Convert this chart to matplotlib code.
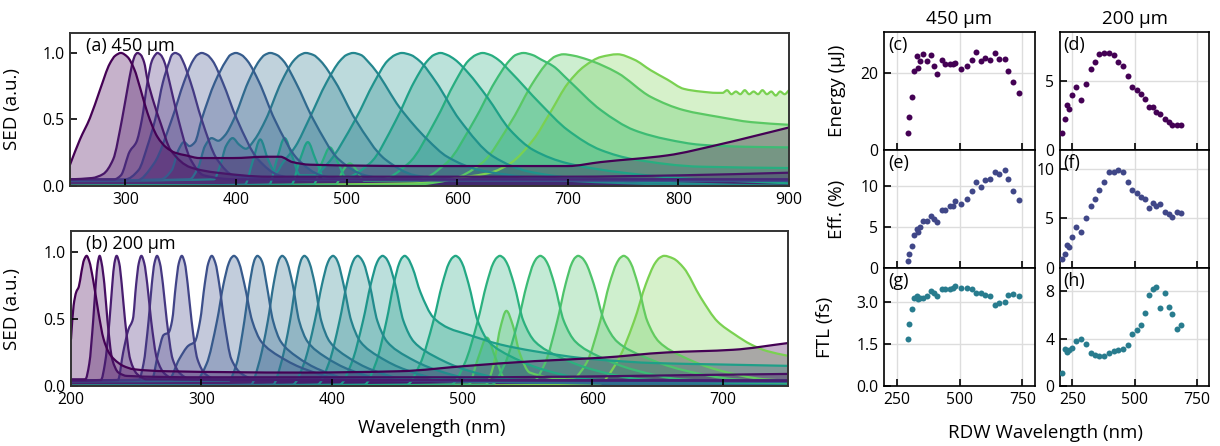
import matplotlib
matplotlib.use('Agg')
import matplotlib.pyplot as plt
from matplotlib.path import Path
from matplotlib.patches import PathPatch
import numpy as np

plt.rcParams['font.family'] = ['Open Sans', 'DejaVu Sans']

# ---------------- Spectra, panel (a): 450 um  -- (wavelength nm, SED) knots
a01 = [(250,.16),(259,.35),(268,.51),(277,.72),(286,.92),(291,.98),(296,1.0),(302,.97),(308,.88),(314,.72),(320,.55),(329,.37),(337,.29),(345,.25),(355,.23),(367,.21),(397,.21),(428,.22),(440,.22),(451,.18),(467,.16),(567,.15),(700,.15),(730,.18),(790,.23),(836,.31),(866,.37),(900,.44)]
a02 = [(250,.05),(270,.06),(280,.09),(289,.2),(297,.5),(303,.78),(307,.94),(309,.985),(311,1.0),(314,.985),(317,.93),(320,.8),(326,.62),(332,.47),(341,.27),(359,.14),(383,.10),(429,.07),(700,.07),(800,.08),(900,.10)]
a03 = [(250,.05),(290,.05),(296,.08),(304,.26),(310,.33),(315,.5),(320,.78),(324,.94),(327,.985),(329,1.0),(332,.985),(335,.94),(340,.78),(348,.5),(359,.2),(371,.08),(400,.05),(900,.05)]
a04 = [(250,.05),(300,.05),(312,.12),(320,.3),(327,.5),(334,.78),(340,.94),(342,.985),(345,1.0),(349,.985),(352,.94),(359,.78),(369,.5),(383,.2),(398,.08),(440,.05),(900,.05)]
a05 = [(250,.04),(310,.04),(326,.17),(342,.5),(353,.78),(361,.94),(365,.985),(369,1.0),(374,.985),(379,.94),(388,.78),(401,.5),(420,.2),(439,.08),(465,.045),(900,.04)]
a06 = [(250,.04),(332,.05),(342,.12),(348,.27),(353,.33),(358,.3),(363,.33),(369,.5),(381,.78),(391,.94),(395,.985),(400,1.0),(405,.985),(410.5,.94),(421,.78),(435,.5),(456,.2),(477,.08),(505,.045),(900,.04)]
a07 = [(250,.04),(358,.05),(366,.14),(372,.3),(378,.36),(384,.34),(390,.38),(398,.5),(411,.78),(421,.94),(426,.985),(431,1.0),(437,.985),(443,.94),(454,.78),(470,.5),(493,.2),(517,.08),(548,.045),(900,.04)]
a08 = [(250,.04),(380,.05),(386,.16),(391,.3),(397,.36),(403,.31),(409,.28),(417,.35),(427,.5),(441,.78),(452,.94),(458,.985),(463,1.0),(470,.985),(476.5,.94),(490,.78),(508,.5),(535,.2),(562,.08),(598,.045),(900,.04)]
a09 = [(250,0),(408,.01),(415,.18),(422,.35),(429,.2),(436,.1),(442,.17),(454,.3),(466,.5),(482,.78),(494,.94),(500,.985),(506,1.0),(513,.985),(520,.93),(527,.86),(548,.59),(573,.35),(591,.22),(620,.12),(660,.07),(700,.04),(800,.01),(900,0)]
a10 = [(250,0),(430,.01),(437,.2),(444,.36),(451,.22),(458,.08),(470,.08),(483,.17),(508,.5),(525,.78),(537,.94),(544,.985),(550,1.0),(558,.985),(566,.94),(581,.78),(602,.5),(633,.22),(664,.11),(706,.06),(800,.02),(900,0)]
a11 = [(250,0),(450,.01),(458,.2),(465,.33),(472,.2),(480,.06),(497,.06),(521,.17),(545,.5),(561,.78),(573,.94),(579,.985),(585,1.0),(591,.985),(598,.95),(610,.85),(627,.67),(648,.42),(669,.27),(700,.17),(750,.1),(800,.06),(900,.02)]
a12 = [(250,0),(470,.01),(478,.18),(485,.29),(492,.18),(500,.06),(531,.05),(556,.17),(581,.5),(598,.78),(610,.94),(617,.985),(623,1.0),(630,.985),(637,.95),(648,.86),(675,.62),(700,.42),(730,.27),(760,.2),(820,.145),(900,.135)]
a13 = [(250,0),(490,.01),(497,.12),(503,.17),(509,.12),(516,.04),(563,.04),(590,.17),(616,.5),(634,.78),(647,.94),(653,.985),(660,1.0),(668,.985),(676,.95),(687,.9),(700,.8),(730,.57),(760,.42),(790,.35),(820,.31),(860,.295),(900,.29)]
a14 = [(250,0),(560,.01),(595,.05),(622,.17),(650,.5),(668,.77),(682,.93),(689,.975),(696,.99),(705,.98),(718,.95),(745,.85),(775,.67),(805,.57),(836,.52),(866,.48),(900,.46)]
a15 = [(250,0),(560,.02),(600,.06),(630,.1),(648,.17),(669,.35),(684,.55),(700,.77),(715,.9),(730,.97),(745,.99),(760,.95),(775,.87),(790,.8),(805,.73),(820,.71),(835,.70),(840,.70),(844,.72),(848,.69),(852,.71),(856,.69),(860,.72),(864,.69),(868,.71),(872,.69),(876,.72),(880,.69),(884,.71),(888,.68),(892,.71),(896,.69),(900,.72)]
spectra_a = [a01, a02, a03, a04, a05, a06, a07, a08, a09, a10, a11, a12, a13, a14, a15]

# ---------------- Spectra, panel (b): 200 um
b01 = [(200,.35),(202,.6),(204,.7),(206,.74),(208,.85),(210,.94),(212,.97),(214,.93),(217,.79),(221,.55),(225,.35),(229,.25),(233,.2),(240,.15),(248,.125),(273,.11),(375,.10),(452,.11),(504,.15),(555,.185),(606,.21),(657,.25),(708,.27),(750,.32)]
b02 = [(200,.05),(211,.05),(214,.165),(217,.485),(219,.76),(220.5,.915),(222,.97),(223.5,.915),(225.6,.76),(228,.485),(231.6,.2),(236.4,.1),(243,.075),(300,.065),(500,.065),(750,.09)]
b03 = [(200,.04),(223,.045),(226,.165),(229.5,.485),(231.7,.76),(233.3,.915),(235,.97),(237,.915),(238.9,.76),(241.5,.485),(245.4,.2),(250.6,.09),(258,.05),(750,.04)]
b04 = [(200,.04),(236,.045),(240,.25),(244,.42),(247.5,.5),(250,.76),(252,.915),(254,.97),(256.2,.915),(258.5,.76),(261.5,.485),(266,.2),(272,.09),(280,.05),(750,.04)]
b05 = [(200,.04),(252,.045),(255.6,.165),(259.5,.485),(262,.76),(264,.915),(266,.97),(268.2,.915),(270.5,.76),(273.5,.485),(278,.2),(284,.09),(292,.05),(750,.04)]
b06 = [(200,.04),(262,.05),(267,.25),(271,.38),(275,.4),(277.5,.485),(280.5,.76),(282.7,.915),(285,.97),(287.3,.915),(289.5,.76),(292.5,.485),(297,.2),(303,.09),(311,.05),(750,.04)]
b07 = [(200,.04),(275,.05),(283,.2),(290,.3),(295,.33),(299,.485),(302.6,.76),(305.3,.915),(308,.97),(310.8,.915),(313.7,.76),(317.5,.485),(323,.2),(331,.09),(341,.05),(750,.04)]
b08 = [(200,.04),(296,.045),(304,.165),(312,.485),(317,.76),(321,.915),(323,.955),(325,.97),(327,.955),(329,.915),(333,.76),(339,.485),(346,.33),(360,.22),(381,.12),(409,.05),(750,.035)]
b09 = [(200,.035),(321,.04),(327,.165),(333,.485),(337,.76),(340,.915),(341.5,.955),(343,.97),(345,.955),(347,.915),(350,.76),(355,.485),(361,.33),(373,.22),(391,.12),(415,.05),(750,.03)]
b10 = [(200,0),(338,.01),(344,.165),(351,.485),(355.4,.76),(358.7,.915),(360.3,.955),(362,.97),(364,.955),(366,.915),(370,.76),(375,.485),(381.5,.33),(394.5,.22),(414,.12),(440,.05),(600,.02),(750,0)]
b11 = [(200,0),(355,.01),(361,.165),(368,.485),(372.4,.76),(375.7,.915),(377.3,.955),(379,.97),(381,.955),(383,.915),(387,.76),(392,.485),(398.5,.33),(411.5,.22),(431,.12),(457,.05),(600,.02),(750,0)]
b12 = [(200,0),(370,.01),(378.6,.165),(387,.485),(392.6,.76),(396.8,.915),(398.9,.955),(401,.97),(403,.955),(405,.915),(409,.76),(415,.485),(422,.33),(436,.22),(457,.12),(485,.05),(620,.02),(750,0)]
b13 = [(200,0),(389,.01),(397.6,.165),(406,.485),(411.6,.76),(415.8,.915),(417.9,.955),(420,.97),(422,.955),(424.5,.915),(429,.76),(435,.485),(442.5,.33),(457.5,.22),(480,.12),(510,.05),(640,.02),(750,0)]
b14 = [(200,0),(406,.01),(415,.165),(424,.485),(430,.76),(434.5,.915),(436.8,.955),(439,.97),(441.4,.955),(443.8,.915),(448.6,.76),(455,.485),(463,.33),(479,.22),(503,.12),(535,.05),(660,.02),(750,0)]
b15 = [(200,0),(425,.01),(433.6,.165),(442,.485),(447.6,.76),(451.8,.915),(453.9,.955),(456,.97),(458.5,.95),(462,.88),(468,.7),(478,.51),(490,.43),(504,.385),(529,.31),(555,.26),(600,.2),(650,.17),(700,.16),(750,.15)]
b16 = [(200,0),(457.6,.01),(467.8,.165),(478,.485),(484.8,.76),(489.9,.915),(492.5,.955),(495,.97),(497.5,.955),(500,.915),(505,.76),(512,.485),(520.5,.33),(537.5,.22),(563,.12),(597,.05),(700,.02),(750,0)]
b17 = [(200,0),(491.6,.01),(501.8,.165),(512,.485),(518.8,.76),(523.9,.915),(526.5,.955),(529,.97),(531.7,.955),(534.4,.915),(539.8,.76),(547,.485),(556,.33),(574,.22),(601,.12),(637,.05),(750,.01)]
b18 = [(200,0),(522.6,.01),(532.8,.165),(543,.485),(549.8,.76),(554.9,.915),(557.5,.955),(560,.97),(562.7,.955),(565.4,.915),(570.8,.76),(578,.485),(587,.33),(605,.22),(632,.12),(668,.05),(750,.02)]
b19 = [(200,0),(505,.01),(512,.2),(519,.36),(526,.2),(533,.05),(554,.03),(563.4,.165),(573,.485),(579.4,.76),(584.2,.915),(586.6,.955),(589,.97),(592,.955),(595,.915),(601,.76),(609,.485),(619,.33),(639,.22),(669,.12),(709,.05),(750,.03)]
b20 = [(200,0),(518,.01),(524,.15),(529,.42),(534,.56),(539,.45),(544,.25),(552,.1),(584,.05),(595,.165),(606,.485),(613,.76),(618.6,.915),(621.3,.955),(624,.97),(626.7,.955),(629.4,.915),(634.8,.76),(642,.485),(651,.33),(669,.22),(696,.12),(732,.05),(750,.04)]
b21 = [(200,0),(604,.01),(618,.165),(632,.485),(641,.76),(648,.915),(651.5,.955),(655,.97),(662,.95),(670,.88),(683,.66),(696,.48),(709,.385),(721.5,.31),(734,.26),(750,.225)]
spectra_b = [b01, b02, b03, b04, b05, b06, b07, b08, b09, b10, b11, b12, b13, b14, b15, b16, b17, b18, b19, b20, b21]

# ---------------- Scatter data (RDW wavelength nm)
wl_450 = [294, 300, 310, 319, 330, 334, 343, 356, 369, 385, 399, 410, 432, 442, 462, 475, 483, 505, 529, 548, 564, 584, 601, 621, 641, 658, 681, 694, 714, 737]
energy_450 = [4.35, 8.6, 13.7, 20.5, 24.5, 21.3, 23.0, 24.9, 23.2, 24.6, 21.7, 19.6, 23.4, 22.3, 22.2, 22.3, 22.6, 20.9, 21.8, 23.4, 25.5, 23.0, 23.8, 23.4, 25.1, 23.7, 23.5, 20.4, 17.6, 14.8]
eff_450 = [0.85, 1.67, 2.64, 3.98, 4.80, 4.39, 5.0, 5.69, 5.69, 6.30, 5.93, 5.61, 7.11, 7.11, 7.52, 7.6, 8.13, 7.80, 8.41, 9.35, 10.49, 9.88, 10.69, 10.85, 11.71, 11.50, 11.91, 10.89, 9.35, 8.25]
ftl_450 = [1.67, 2.22, 2.75, 3.14, 3.20, 3.11, 3.14, 3.14, 3.20, 3.38, 3.32, 3.20, 3.47, 3.44, 3.47, 3.50, 3.56, 3.48, 3.48, 3.44, 3.32, 3.32, 3.24, 3.20, 2.90, 2.96, 3.00, 3.23, 3.26, 3.20]
wl_200 = [210, 221, 230, 237, 250, 263, 283, 306, 323, 341, 359, 377, 397, 417, 434, 453, 473, 490, 510, 527, 543, 557, 574, 586, 603, 623, 637, 653, 670, 687]
energy_200 = [1.25, 2.24, 3.29, 2.96, 3.97, 4.57, 3.61, 4.78, 5.89, 6.39, 6.92, 7.02, 7.02, 6.90, 6.39, 6.06, 5.36, 4.57, 4.33, 4.06, 3.73, 3.13, 3.13, 2.76, 2.64, 2.21, 2.04, 1.80, 1.80, 1.80]
eff_200 = [0.88, 1.45, 2.36, 2.13, 3.14, 4.16, 3.65, 5.0, 6.25, 6.96, 7.87, 8.72, 9.66, 9.66, 9.90, 9.66, 8.72, 7.87, 7.60, 7.20, 6.96, 6.01, 6.52, 6.25, 6.45, 5.68, 5.44, 5.17, 5.61, 5.51]
ftl_200 = [1.13, 3.10, 2.87, 3.01, 3.21, 3.80, 4.0, 3.52, 2.79, 2.59, 2.51, 2.51, 2.79, 2.93, 3.01, 3.15, 3.44, 4.34, 4.71, 5.18, 6.11, 7.66, 8.17, 8.37, 6.54, 7.86, 6.68, 6.03, 4.76, 5.13]

# ---------------- Figure
W, H = 1220, 446
fig = plt.figure(figsize=(W / 100, H / 100), dpi=100)


def px_axes(l, t, r, b):
    return fig.add_axes([l / W, 1 - b / H, (r - l) / W, (b - t) / H])


TICK_FS = 11.3
LABEL_FS = 13.5


def smooth_path(pts, close=False):
    """Bezier path through the knots (monotone cubic tangents), drawn by matplotlib."""
    x = np.array([p[0] for p in pts], float)
    y = np.array([p[1] for p in pts], float)
    h = np.diff(x)
    d = np.diff(y) / h
    n = len(x)
    m = np.empty(n)
    m[0], m[-1] = d[0], d[-1]
    for i in range(1, n - 1):
        if d[i - 1] * d[i] <= 0:
            m[i] = 0.0
        else:
            w1 = 2 * h[i] + h[i - 1]
            w2 = h[i] + 2 * h[i - 1]
            m[i] = (w1 + w2) / (w1 / d[i - 1] + w2 / d[i])
    verts = [(x[0], y[0])]
    codes = [Path.MOVETO]
    for i in range(n - 1):
        verts += [(x[i] + h[i] / 3, y[i] + m[i] * h[i] / 3),
                  (x[i + 1] - h[i] / 3, y[i + 1] - m[i + 1] * h[i] / 3),
                  (x[i + 1], y[i + 1])]
        codes += [Path.CURVE4] * 3
    if close:
        verts += [(x[-1], 0), (x[0], 0), (x[0], y[0])]
        codes += [Path.LINETO, Path.LINETO, Path.CLOSEPOLY]
    return Path(verts, codes)


def draw_spectra(ax, spectra, xlim, xticks, ytop):
    n = len(spectra)
    cols = [plt.cm.viridis(v) for v in np.linspace(0, 0.8, n)]
    pairs = list(zip(spectra, cols))[::-1]
    for s, c in pairs:
        ax.add_patch(PathPatch(smooth_path(s, close=True), facecolor=c, alpha=0.3, lw=0))
    for s, c in pairs:
        ax.add_patch(PathPatch(smooth_path(s), fill=False, edgecolor=c, lw=1.6,
                               capstyle='round', joinstyle='round'))
    ax.set_xlim(*xlim)
    ax.set_ylim(0, ytop)
    ax.set_xticks(xticks)
    ax.set_yticks([0, 0.5, 1.0])
    ax.set_yticklabels(['0.0', '0.5', '1.0'])
    ax.tick_params(direction='in', length=5, width=1.2, labelsize=TICK_FS, pad=4)
    for sp in ax.spines.values():
        sp.set_color('#333333')
        sp.set_linewidth(1.4)
    ax.set_ylabel('SED (a.u.)', fontsize=LABEL_FS)


axa = px_axes(70, 33, 789, 186)
draw_spectra(axa, spectra_a, (250, 900), [300, 400, 500, 600, 700, 800, 900], 1.15)
axa.yaxis.set_label_coords((21 - 70) / 719, 0.5)
axa.text(0.022, 0.915, '(a) 450 µm', transform=axa.transAxes, fontsize=13, va='center', ha='left')

axb = px_axes(71, 231, 788, 386)
draw_spectra(axb, spectra_b, (200, 750), [200, 300, 400, 500, 600, 700], 1.155)
axb.yaxis.set_label_coords((21 - 71) / 717, 0.5)
axb.text(0.021, 0.913, '(b) 200 µm', transform=axb.transAxes, fontsize=13, va='center', ha='left')
axb.set_xlabel('Wavelength (nm)', fontsize=LABEL_FS)
axb.xaxis.set_label_coords(0.503, -0.215)

# ---------------- Scatter panels
cols_x = [(884, 1035), (1060, 1209)]
rows_y = [(32, 150), (150, 268), (268, 386)]
dot_cols = ['#440154', '#404788', '#287c8e']

panels = [
    (0, 0, wl_450, energy_450, (0, 30.6), [0, 20], '(c)'),
    (1, 0, wl_200, energy_200, (0, 8.55), [0, 5], '(d)'),
    (0, 1, wl_450, eff_450, (0, 14.4), [0, 5, 10], '(e)'),
    (1, 1, wl_200, eff_200, (0, 11.9), [0, 5, 10], '(f)'),
    (0, 2, wl_450, ftl_450, (0, 4.2), [0, 1.5, 3.0], '(g)'),
    (1, 2, wl_200, ftl_200, (0, 9.94), [0, 4, 8], '(h)'),
]
ylabels = ['Energy (µJ)', 'Eff. (%)', 'FTL (fs)']
for ci, ri, xs, ys, ylim, yt, lab in panels:
    l, r = cols_x[ci]
    t, b = rows_y[ri]
    ax = px_axes(l, t, r, b)
    ax.plot(xs, ys, 'o', ms=4.3, color=dot_cols[ri], mec='none', zorder=3)
    ax.set_xlim(200, 800)
    ax.set_xticks([250, 500, 750])
    ax.set_ylim(*ylim)
    ax.set_yticks(yt)
    ax.grid(True, color='#dddddd', lw=1.0)
    ax.set_axisbelow(True)
    ax.tick_params(direction='in', length=5, width=1.2, labelsize=TICK_FS, pad=4)
    if ri != 2:
        ax.tick_params(labelbottom=False)
    for sp in ax.spines.values():
        sp.set_color('black')
        sp.set_linewidth(1.2)
    ax.text(0.025, 0.89, lab, transform=ax.transAxes, fontsize=13, va='center', ha='left')
    if ci == 0:
        ax.set_ylabel(ylabels[ri], fontsize=LABEL_FS)
        xlab = (846 - 884) / 151 if ri < 2 else (834 - 884) / 151
        ax.yaxis.set_label_coords(xlab, 0.5)

fig.text(959 / W, 1 - 19 / H, '450 µm', fontsize=13.5, ha='center', va='center')
fig.text(1135 / W, 1 - 19 / H, '200 µm', fontsize=13.5, ha='center', va='center')
fig.text(1046 / W, 1 - 433 / H, 'RDW Wavelength (nm)', fontsize=LABEL_FS, ha='center', va='center')

fig.savefig('out.png', dpi=100)
